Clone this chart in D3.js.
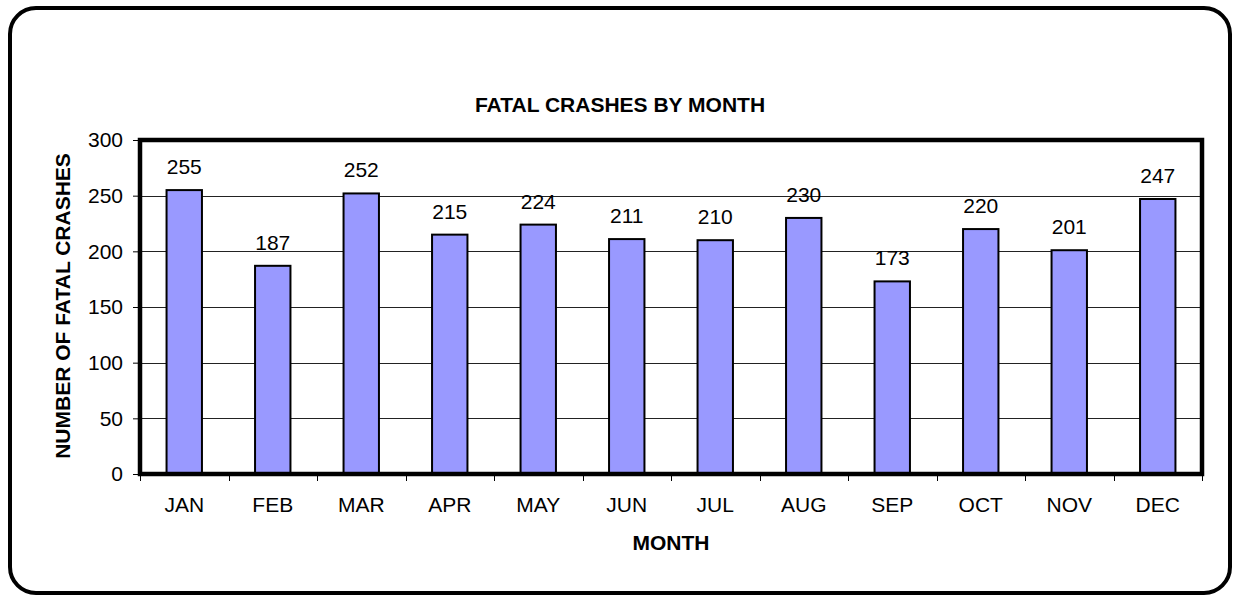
<!DOCTYPE html>
<html>
<head>
<meta charset="utf-8">
<script src="https://cdn.jsdelivr.net/npm/d3@7"></script>
<style>
  html, body { margin: 0; padding: 0; background: #fff; }
  svg { display: block; }
  text { font-family: "Liberation Sans", Arial, sans-serif; fill: #000; }
</style>
</head>
<body>
<svg id="chart" width="1235" height="596"></svg>
<script>
const months = ["JAN","FEB","MAR","APR","MAY","JUN","JUL","AUG","SEP","OCT","NOV","DEC"];
const crashes = [255, 187, 252, 215, 224, 211, 210, 230, 173, 220, 201, 247];
const yTicks = [0, 50, 100, 150, 200, 250, 300];
const titleText = "FATAL CRASHES BY MONTH";
const xLabel = "MONTH";
const yLabel = "NUMBER OF FATAL CRASHES";

const svg = d3.select("#chart");
const plot = { left: 140, right: 1202, top: 140, bottom: 474 };

// outer rounded frame
svg.append("rect")
  .attr("x", 10).attr("y", 8)
  .attr("width", 1220).attr("height", 585)
  .attr("rx", 26).attr("ry", 26)
  .attr("fill", "#fff").attr("stroke", "#000").attr("stroke-width", 4);

const x = d3.scaleBand().domain(months).range([plot.left, plot.right]).paddingInner(0.6).paddingOuter(0.3);
const xb = d3.scaleBand().domain(months).range([plot.left, plot.right]);
const y = d3.scaleLinear().domain([0, 300]).range([plot.bottom, plot.top]);

// gridlines
svg.append("g").selectAll("line").data(yTicks.filter(t => t > 0 && t < 300)).join("line")
  .attr("x1", plot.left).attr("x2", plot.right)
  .attr("y1", d => Math.round(y(d)) + 0.5).attr("y2", d => Math.round(y(d)) + 0.5)
  .attr("stroke", "#222").attr("stroke-width", 1);

// bars
svg.append("g").selectAll("rect").data(crashes).join("rect")
  .attr("x", (d, i) => x(months[i]))
  .attr("y", d => y(d))
  .attr("width", x.bandwidth())
  .attr("height", d => y(0) - y(d))
  .attr("fill", "#9999FF").attr("stroke", "#000").attr("stroke-width", 2);

// data labels
svg.append("g").selectAll("text").data(crashes).join("text")
  .attr("x", (d, i) => x(months[i]) + x.bandwidth() / 2)
  .attr("y", d => y(d) - 16)
  .attr("text-anchor", "middle")
  .attr("font-size", 21)
  .text(d => d);

// y axis
const yAxis = d3.axisLeft(y).tickValues(yTicks).tickSize(7).tickPadding(10);
const gy = svg.append("g").attr("transform", `translate(${plot.left},0)`).call(yAxis);
gy.select(".domain").remove();
gy.selectAll("line").attr("stroke", "#000");
gy.selectAll("text").attr("font-size", 21).attr("font-family", "Liberation Sans, Arial, sans-serif").attr("fill", "#000");

// x axis (ticks at band boundaries)
const gx = svg.append("g").attr("transform", `translate(0,${plot.bottom})`);
gx.selectAll("line").data(months.concat(["_end"])).join("line")
  .attr("x1", (d, i) => Math.round(plot.left + i * xb.step()) + 0.5)
  .attr("x2", (d, i) => Math.round(plot.left + i * xb.step()) + 0.5)
  .attr("y1", 0).attr("y2", 7)
  .attr("stroke", "#000");
gx.selectAll("text").data(months).join("text")
  .attr("x", d => xb(d) + xb.bandwidth() / 2)
  .attr("y", 38)
  .attr("text-anchor", "middle")
  .attr("font-size", 21)
  .text(d => d);

// plot border
svg.append("rect")
  .attr("x", plot.left).attr("y", plot.top)
  .attr("width", plot.right - plot.left).attr("height", plot.bottom - plot.top)
  .attr("fill", "none").attr("stroke", "#000").attr("stroke-width", 4.5);

// title
svg.append("text")
  .attr("x", 620).attr("y", 112)
  .attr("text-anchor", "middle")
  .attr("font-size", 21).attr("font-weight", "bold")
  .text(titleText);

// x label
svg.append("text")
  .attr("x", (plot.left + plot.right) / 2).attr("y", 550)
  .attr("text-anchor", "middle")
  .attr("font-size", 21).attr("font-weight", "bold")
  .text(xLabel);

// y label
svg.append("text")
  .attr("transform", `translate(70,306) rotate(-90)`)
  .attr("text-anchor", "middle")
  .attr("font-size", 21).attr("font-weight", "bold")
  .text(yLabel);
</script>
</body>
</html>
